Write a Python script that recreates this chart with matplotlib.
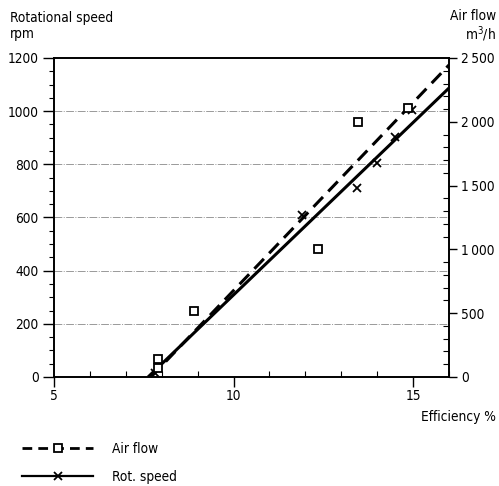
import matplotlib
matplotlib.use("Agg")
import matplotlib.pyplot as plt
from matplotlib.ticker import MultipleLocator, FixedLocator
from matplotlib.lines import Line2D

plt.rcParams["font.family"] = ["DejaVu Sans"]
plt.rcParams["font.stretch"] = "condensed"

# Data
rot_eff = [7.8, 11.9, 13.43, 14.0, 14.5, 14.97]
rot_rpm = [15, 610, 711, 805, 903, 1005]
air_eff = [7.9, 7.9, 8.91, 12.35, 13.46, 14.85]
air_m3h = [140, 70, 515, 1003, 2000, 2105]
rot_fit_eff = [7.62, 16.0]
rot_fit_rpm = [0, 1087]
air_fit_eff = [7.7, 16.0]
air_fit_m3h = [0, 2445]

left_ticks = [0, 200, 400, 600, 800, 1000, 1200]
right_ticks = [0, 500, 1000, 1500, 2000, 2500]
right_labels = ["0", "500", "1\u2009000", "1\u2009500", "2\u2009000", "2\u2009500"]
x_ticks = [5, 10, 15]

fig = plt.figure(figsize=(4.99, 4.86), dpi=100)
ax = fig.add_axes([54/499, 1-377/486, (449-54)/499, (377-58)/486])
ax2 = ax.twinx()

fs = 9.8
ax.set_xlim(5, 16)
ax.set_ylim(0, 1200)
ax2.set_ylim(0, 2500)

for y in left_ticks[1:-1]:
    ax.axhline(y, color="#999999", lw=0.7, ls=(0, (8, 1.5, 1, 1.5)), zorder=0)

ax.plot(rot_fit_eff, rot_fit_rpm, color="black", lw=2.2, solid_capstyle="butt")
ax.plot(rot_eff, rot_rpm, ls="none", marker="x", color="black", ms=6, mew=1.3)
ax2.plot(air_fit_eff, air_fit_m3h, color="black", lw=2.2, ls=(0, (4.5, 2.5)))
ax2.plot(air_eff, air_m3h, ls="none", marker="s", mfc="white", mec="black", ms=6, mew=1.3)

ax.set_yticks(left_ticks)
ax.set_yticklabels([str(v) for v in left_ticks], fontsize=fs)
ax.yaxis.set_minor_locator(MultipleLocator(50))
ax.set_xticks(x_ticks)
ax.set_xticklabels([str(v) for v in x_ticks], fontsize=fs)
ax.xaxis.set_minor_locator(FixedLocator([6, 7, 8, 9, 11, 12, 13, 14, 16]))
ax2.set_yticks(right_ticks)
ax2.set_yticklabels(right_labels, fontsize=fs)
ax2.yaxis.set_minor_locator(MultipleLocator(100))

ax.tick_params(axis="y", which="major", direction="out", length=8, width=1, pad=3)
ax.tick_params(axis="y", which="minor", direction="out", length=3.5, width=0.8)
ax.tick_params(axis="x", which="major", direction="out", length=7, width=1, pad=2)
ax.tick_params(axis="x", which="minor", direction="in", length=4, width=0.8)
ax2.tick_params(axis="y", which="major", direction="out", length=6, width=1, pad=3)
ax2.tick_params(axis="y", which="minor", direction="in", length=4, width=0.8)

for a in (ax, ax2):
    for s in a.spines.values():
        s.set_linewidth(1.2)
        s.set_color("black")

fig.text(10/499, 1-18/486, "Rotational speed", fontsize=fs, ha="left", va="center")
fig.text(10/499, 1-34/486, "rpm", fontsize=fs, ha="left", va="center")
fig.text(496/499, 1-16/486, "Air flow", fontsize=fs, ha="right", va="center")
fig.text(496/499, 1-34/486, "m$^3$/h", fontsize=fs, ha="right", va="center")
fig.text(496/499, 1-417/486, "Efficiency %", fontsize=fs, ha="right", va="center")

# Legend
h1 = Line2D([], [], color="black", lw=2.0, ls=(0, (3.5, 2.2)), marker="s",
            mfc="white", mec="black", ms=6, mew=1.3)
h2 = Line2D([], [], color="black", lw=1.6, marker="x", ms=6, mew=1.3)
fig.legend([h1, h2], ["Air flow", "Rot. speed"], loc="upper left",
           bbox_to_anchor=(10/499, 1-430/486), frameon=False, fontsize=fs,
           handlelength=5.2, handletextpad=1.4, labelspacing=1.0)

fig.savefig("out.png", dpi=100)
